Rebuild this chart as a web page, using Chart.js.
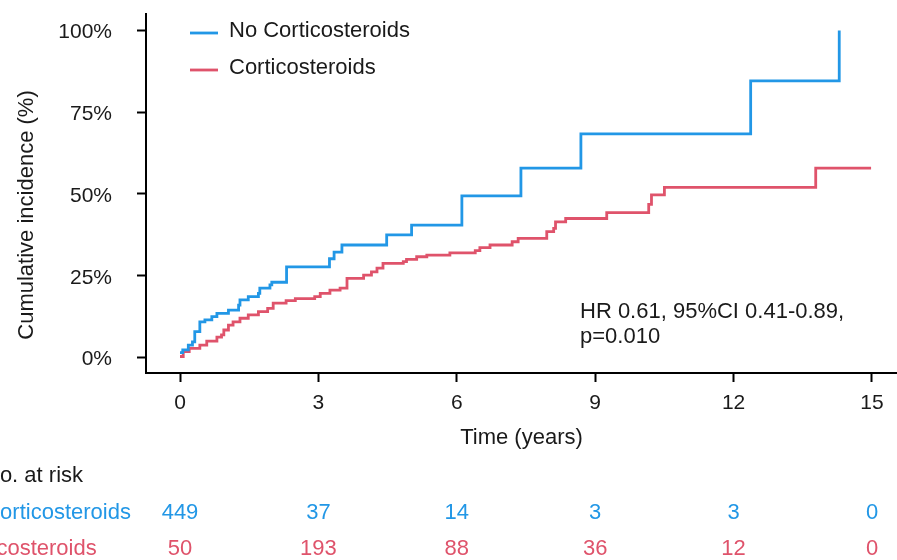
<!DOCTYPE html>
<html><head><meta charset="utf-8">
<script src="https://cdn.jsdelivr.net/npm/chart.js@4.4.1/dist/chart.umd.min.js"></script>
<style>html,body{margin:0;padding:0;background:#fff;overflow:hidden}canvas{display:block}</style>
</head><body>
<canvas id="c" width="897" height="560"></canvas>
<script>
const seriesNames = ['No Corticosteroids', 'Corticosteroids'];
const seriesColors = ['#2297E6', '#DF536B'];
const noCortTime = [0, 0.06, 0.18, 0.27, 0.32, 0.43, 0.54, 0.69, 0.80, 1.05, 1.27, 1.30, 1.48, 1.70, 1.73, 1.95, 1.99, 2.31, 3.24, 3.34, 3.51, 4.48, 5.02, 6.11, 7.39, 8.69, 12.37, 14.29];
const noCortInc  = [1.5, 2.3, 3.8, 4.8, 7.9, 10.9, 11.5, 12.5, 13.5, 14.5, 16.0, 17.6, 18.6, 19.6, 21.2, 22.2, 23.0, 27.7, 30.2, 32.2, 34.4, 37.5, 40.5, 49.4, 57.9, 68.4, 84.6, 100];
const cortTime = [0, 0.07, 0.20, 0.43, 0.58, 0.80, 0.90, 0.95, 1.05, 1.15, 1.30, 1.48, 1.70, 1.90, 2.02, 2.30, 2.50, 2.92, 3.04, 3.25, 3.47, 3.62, 3.98, 4.15, 4.27, 4.40, 4.84, 4.91, 5.13, 5.35, 5.85, 6.40, 6.50, 6.72, 7.20, 7.33, 7.95, 8.10, 8.14, 8.36, 9.25, 10.16, 10.22, 10.50, 13.78, 14.98];
const cortInc  = [0.3, 1.8, 2.8, 3.8, 5.0, 6.2, 6.9, 8.4, 9.9, 10.9, 12.0, 13.0, 14.0, 15.0, 16.6, 17.4, 18.0, 18.6, 19.6, 20.6, 21.2, 24.2, 25.2, 26.2, 27.3, 28.8, 29.3, 30.0, 30.8, 31.3, 32.0, 32.7, 33.6, 34.4, 35.4, 36.4, 38.5, 39.5, 41.5, 42.5, 44.3, 46.8, 49.7, 52.0, 57.9, 57.9];
const xTickVals = [0, 3, 6, 9, 12, 15];
const yTickVals = [0, 25, 50, 75, 100];
const atRiskNoCort = [449, 37, 14, 3, 3, 0];
const atRiskCort = [50, 193, 88, 36, 12, 0];
const hrLines = ['HR 0.61, 95%CI 0.41-0.89,', 'p=0.010'];
const xTitle = 'Time (years)';
const yTitle = 'Cumulative incidence (%)';
const riskTitle = 'No. at risk';

const FONT = '"Liberation Sans", Arial, sans-serif';
const TXT = '#1a1a1a';

function pts(t, v) { return t.map((x, i) => ({x: x, y: v[i]})); }

const overlay = {
  id: 'overlay',
  afterDraw(chart) {
    const ctx = chart.ctx, xs = chart.scales.x;
    ctx.save();
    ctx.font = '22px ' + FONT;
    ctx.fillStyle = TXT;
    ctx.textBaseline = 'middle';
    // y title
    ctx.save();
    ctx.translate(27, 215);
    ctx.rotate(-Math.PI / 2);
    ctx.textAlign = 'center';
    ctx.fillText(yTitle, 0, 0);
    ctx.restore();
    // legend
    const legY = [31, 68];
    seriesNames.forEach((n, i) => {
      ctx.strokeStyle = seriesColors[i];
      ctx.lineWidth = 2.8;
      ctx.beginPath(); ctx.moveTo(190, legY[i] + 2); ctx.lineTo(218, legY[i] + 2); ctx.stroke();
      ctx.fillStyle = TXT; ctx.textAlign = 'left';
      ctx.fillText(n, 229, legY[i]);
    });
    // HR annotation
    ctx.textAlign = 'left'; ctx.fillStyle = TXT;
    ctx.fillText(hrLines[0], 580, 312);
    ctx.fillText(hrLines[1], 580, 337);
    // risk table
    ctx.fillText(riskTitle, -16, 476);
    const rows = [atRiskNoCort, atRiskCort];
    const rowY = [513, 549];
    rows.forEach((r, i) => {
      ctx.fillStyle = seriesColors[i];
      ctx.textAlign = 'left';
      ctx.fillText(seriesNames[i], -50, rowY[i]);
      ctx.textAlign = 'center';
      r.forEach((v, j) => ctx.fillText(String(v), xs.getPixelForValue(xTickVals[j]), rowY[i]));
    });
    ctx.restore();
  }
};

new Chart(document.getElementById('c'), {
  type: 'line',
  data: {
    datasets: [
      {label: seriesNames[0], data: pts(noCortTime, noCortInc), borderColor: seriesColors[0], borderWidth: 2.8, stepped: 'before', pointRadius: 0, fill: false},
      {label: seriesNames[1], data: pts(cortTime, cortInc), borderColor: seriesColors[1], borderWidth: 2.8, stepped: 'before', pointRadius: 0, fill: false}
    ]
  },
  options: {
    responsive: false, animation: false, devicePixelRatio: 1,
    layout: {padding: {top: 14, left: 0, right: 0, bottom: 0}},
    plugins: {legend: {display: false}, tooltip: {enabled: false}},
    scales: {
      x: {
        type: 'linear', min: -0.737, max: 15.542,
        afterFit(s) { s.height = 187; s.paddingLeft = 0; s.paddingRight = 0; },
        afterBuildTicks(s) { s.ticks = xTickVals.map(v => ({value: v})); },
        border: {display: true, color: '#000', width: 2},
        grid: {drawOnChartArea: false, drawTicks: true, tickLength: 9, tickWidth: 2, tickColor: '#000'},
        ticks: {padding: 9, color: TXT, font: {family: FONT, size: 21}, maxRotation: 0, autoSkip: false},
        title: {display: true, text: xTitle, color: TXT, font: {family: FONT, size: 22}, padding: {top: 0, bottom: 109}}
      },
      y: {
        min: -4.75, max: 105.05,
        afterFit(s) { s.width = 146; s.paddingTop = 0; s.paddingBottom = 0; },
        afterBuildTicks(s) { s.ticks = yTickVals.map(v => ({value: v})); },
        border: {display: true, color: '#000', width: 2},
        grid: {drawOnChartArea: false, drawTicks: true, tickLength: 9, tickWidth: 2, tickColor: '#000'},
        ticks: {padding: 25, labelOffset: 2, color: TXT, font: {family: FONT, size: 21}, callback: v => v + '%'}
      }
    }
  },
  plugins: [overlay]
});
</script>
</body></html>
